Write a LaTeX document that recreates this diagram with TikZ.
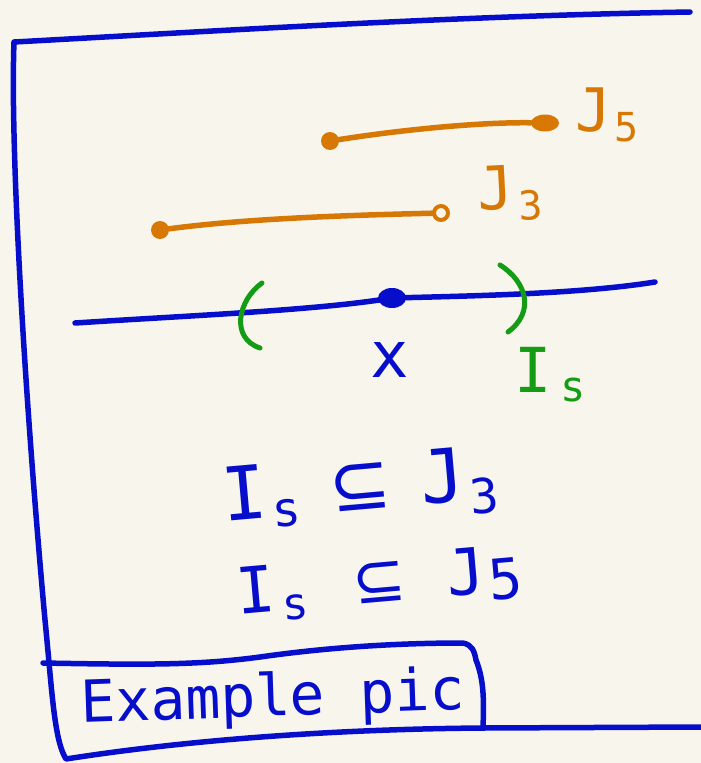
\documentclass[tikz,border=0pt]{standalone}
\usepackage{fontspec}
\setmainfont{DejaVu Sans Mono}
\newfontfamily\inksym{DejaVu Sans}
\usetikzlibrary{shapes.geometric}
\definecolor{inkblue}{RGB}{6,14,204}
\definecolor{inkorange}{RGB}{216,120,4}
\definecolor{inkgreen}{RGB}{20,156,20}
\definecolor{paper}{RGB}{248,246,236}
\begin{document}
\begin{tikzpicture}[x=1pt,y=-1pt,line cap=round,line join=round,
  ink/.style={line width=5.5pt},
  dotfill/.style={circle,fill,inner sep=0pt,minimum size=18pt},
  handtext/.style={inner sep=0pt,outer sep=0pt}]
\fill[paper] (0,0) rectangle (701,763);
\useasboundingbox (0,0) rectangle (701,763);

% ---- frame ----
\draw[ink,inkblue] (690,12) .. controls (450,16) and (200,32) .. (14,42)
  .. controls (10,150) and (25,400) .. (45,620)
  .. controls (52,690) and (54,740) .. (66,759)
  .. controls (200,738) and (350,729) .. (483,728) -- (701,727);
% ---- label box ----
\draw[ink,inkblue] (43,663) .. controls (150,665) and (200,665) .. (260,657)
  .. controls (330,647) and (400,643) .. (463,643)
  .. controls (472,645) and (474,650) .. (476,660)
  .. controls (484,680) and (484,700) .. (483,728);
\node[handtext,inkblue,font=\fontsize{58}{58}\selectfont,rotate=2] (ex) at (273,700) {Example pic};

% ---- J5 interval ----
\node[dotfill,inkorange] (j5a) at (330,141) {};
\node[ellipse,fill,inkorange,inner sep=0pt,minimum width=28pt,minimum height=17pt] (j5b) at (545,123) {};
\draw[ink,inkorange] (j5a) .. controls (400,130) and (480,122) .. (j5b);
\node[handtext,inkorange,font=\fontsize{60}{60}\selectfont] (j5l) at (607,115) {J\hspace{2pt}\raisebox{-10pt}{\fontsize{40}{40}\selectfont 5}};

% ---- J3 interval ----
\node[dotfill,inkorange] (j3a) at (160,230) {};
\node[circle,draw,inkorange,line width=4pt,inner sep=0pt,minimum size=14pt] (j3b) at (441,213) {};
\draw[ink,inkorange] (j3a) .. controls (250,218) and (360,215) .. (j3b);
\node[handtext,inkorange,font=\fontsize{60}{60}\selectfont,rotate=3] (j3l) at (510,193) {J\hspace{4pt}\raisebox{-12pt}{\fontsize{40}{40}\selectfont 3}};

% ---- axis ----
\coordinate (axL) at (75,323);
\coordinate (axR) at (655,282);
\node[ellipse,fill,inkblue,inner sep=0pt,minimum width=28pt,minimum height=20pt] (pt) at (392,298) {};
\draw[ink,inkblue] (axL) .. controls (200,315) and (320,310) .. (pt.center)
  .. controls (470,296) and (580,294) .. (axR);
\node[handtext,inkblue,font=\fontsize{64}{64}\selectfont] (xl) at (390,360) {x};

% ---- I_s brackets ----
\draw[line width=5pt,inkgreen] (262,283) .. controls (238,300) and (230,338) .. (260,348);
\draw[line width=5pt,inkgreen] (500,265) .. controls (527,282) and (535,312) .. (508,332);
\node[handtext,inkgreen,font=\fontsize{62}{62}\selectfont] (isl) at (550,375) {I\hspace{8pt}\raisebox{-9pt}{\fontsize{42}{42}\selectfont s}};

% ---- formulas ----
\node[handtext,inkblue,font=\fontsize{74}{74}\selectfont,rotate=5] (f1) at (360,490)
  {I\hspace{4pt}\raisebox{-10pt}{\fontsize{48}{48}\selectfont s}\hspace{30pt}{\inksym ⊆}\hspace{30pt}J\hspace{3pt}\raisebox{-14pt}{\fontsize{48}{48}\selectfont 3}};
\node[handtext,inkblue,font=\fontsize{64}{64}\selectfont,rotate=5] (f2) at (379,584)
  {I\hspace{6pt}\raisebox{-10pt}{\fontsize{44}{44}\selectfont s}\hspace{46pt}{\inksym ⊆}\hspace{40pt}J\hspace{3pt}\raisebox{-8pt}{\fontsize{56}{56}\selectfont 5}};
\end{tikzpicture}
\end{document}
